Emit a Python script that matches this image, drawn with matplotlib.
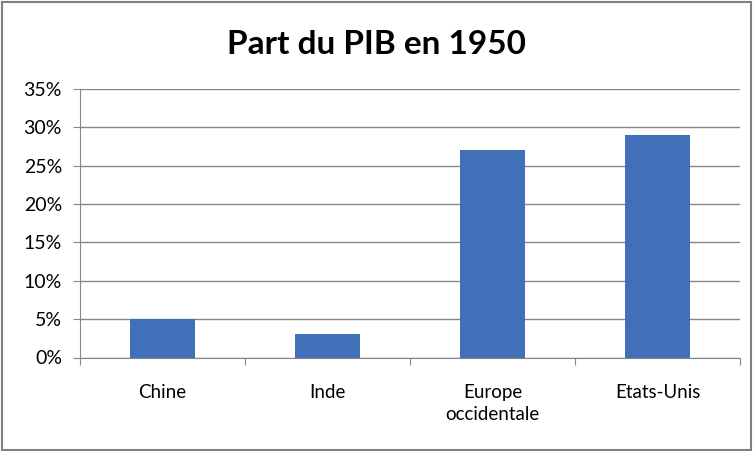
import matplotlib
matplotlib.use("Agg")
import matplotlib.pyplot as plt
from matplotlib.ticker import PercentFormatter
from matplotlib.patches import Rectangle

# data
categories = ["Chine", "Inde", "Europe\noccidentale", "Etats-Unis"]
shares = [5, 3, 27, 29]
y_ticks = [0, 5, 10, 15, 20, 25, 30, 35]

plt.rcParams['font.family'] = ['Lato', 'DejaVu Sans']

fig = plt.figure(figsize=(7.53, 4.51), dpi=100)
ax = fig.add_axes([80 / 753, 1 - 357.5 / 451, 660 / 753, 268.5 / 451])

x = range(len(categories))
ax.bar(x, shares, width=0.39, color="#4170B8", zorder=3)

ax.set_xlim(-0.5, len(categories) - 0.5)
ax.set_ylim(0, 35)
ax.set_yticks(y_ticks)
ax.yaxis.set_major_formatter(PercentFormatter(decimals=0))
ax.grid(axis="y", color="#868686", linewidth=1, zorder=0)

# category labels between boundary ticks, like Excel
ax.set_xticks([i + 0.5 for i in range(-1, len(categories))])
ax.set_xticklabels([])
ax.set_xticks(list(x), minor=True)
ax.set_xticklabels(categories, minor=True, fontsize=13.5, linespacing=1.4)
ax.tick_params(axis="x", which="minor", length=0, pad=19)
ax.tick_params(axis="x", which="major", length=5, color="#868686")
ax.tick_params(axis="y", length=5, color="#868686", labelsize=14, pad=8)

for side in ["top", "right"]:
    ax.spines[side].set_visible(False)
for side in ["left", "bottom"]:
    ax.spines[side].set_color("#868686")

fig.text(0.5, 1 - 44 / 451, "Part du PIB en 1950", ha="center", va="center",
         fontsize=24, fontweight="bold")

# outer chart border
fig.patches.append(Rectangle((0.002, 0.003), 0.995, 0.993, transform=fig.transFigure,
                             fill=False, edgecolor="#7f7f7f", linewidth=1.5))

fig.savefig("out.png", dpi=100)
